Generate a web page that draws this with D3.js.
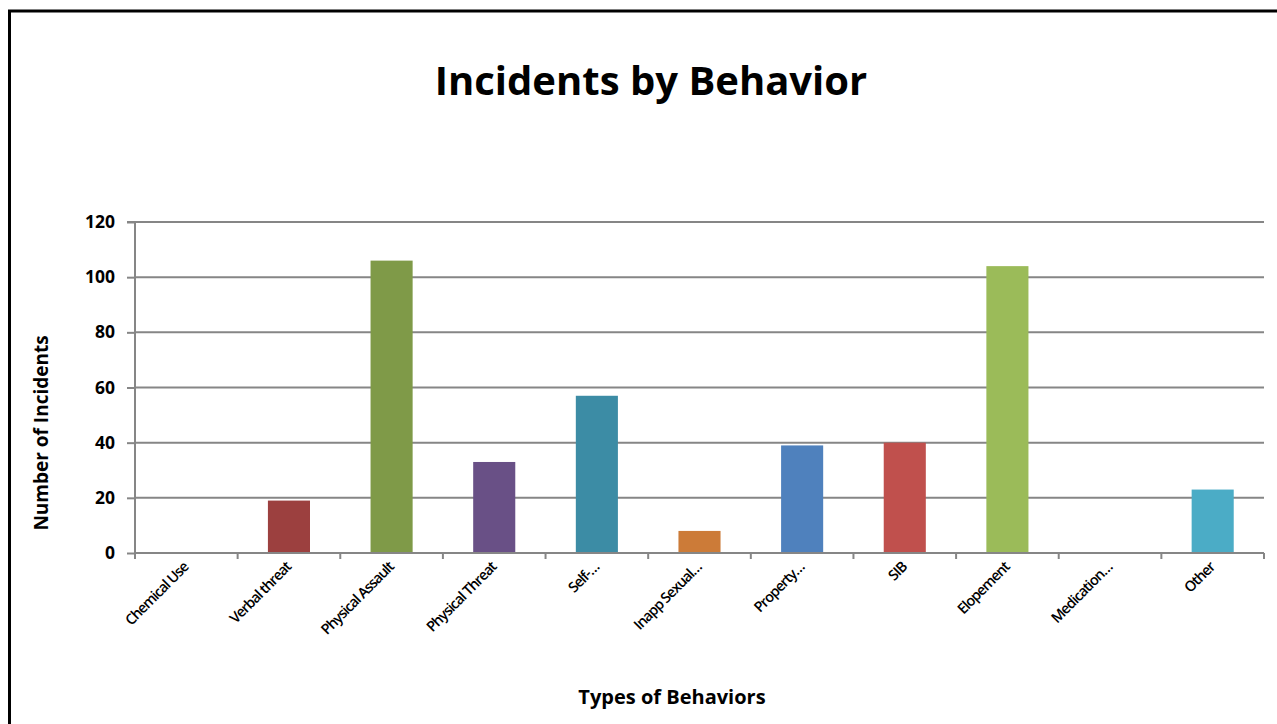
<!DOCTYPE html>
<html>
<head>
<meta charset="utf-8">
<script src="https://cdn.jsdelivr.net/npm/d3@7"></script>
<style>
  html, body { margin: 0; padding: 0; background: #fff; }
  svg { display: block; }
  text { font-family: "Open Sans", "DejaVu Sans", sans-serif; fill: #000; }
</style>
</head>
<body>
<svg id="chart" width="1277" height="724"></svg>
<script>
// Incident counts per behaviour type
const categories = ["Chemical Use", "Verbal threat", "Physical Assault", "Physical Threat",
  "Self-...", "Inapp Sexual...", "Property...", "SIB", "Elopement", "Medication...", "Other"];
const tickLabels = ["Chemical Use", "Verbal threat", "Physical Assault", "Physical Threat",
  "Self-…", "Inapp Sexual…", "Property…", "SIB", "Elopement", "Medication…", "Other"];
const incidents = [0, 19, 106, 33, 57, 8, 39, 40, 104, 0, 23];
const barColors = ["#3a6496", "#9c403f", "#7f9a48", "#695086", "#3c8ca5", "#cc7b38",
  "#4f81bd", "#c0504d", "#9bbb59", "#8064a2", "#4bacc6"];
const yTicks = [0, 20, 40, 60, 80, 100, 120];

const svg = d3.select("#chart");
const W = 1277, H = 724;
const plot = { left: 135, right: 1264, top: 222, bottom: 553 };
const axisColor = "#868686";

// Outer chart frame
svg.append("rect")
  .attr("x", 9.5).attr("y", 11).attr("width", W + 20).attr("height", H + 20)
  .attr("fill", "none").attr("stroke", "#000").attr("stroke-width", 3);

const x = d3.scaleBand().domain(categories).range([plot.left, plot.right]).padding(0);
const y = d3.scaleLinear().domain([0, 120]).range([plot.bottom, plot.top]);

// Horizontal gridlines
svg.append("g").selectAll("line")
  .data(yTicks.filter(t => t > 0))
  .join("line")
  .attr("x1", plot.left).attr("x2", plot.right)
  .attr("y1", d => y(d)).attr("y2", d => y(d))
  .attr("stroke", axisColor).attr("stroke-width", 2);

// Bars
const barW = x.bandwidth() * 0.41;
svg.append("g").selectAll("rect")
  .data(categories)
  .join("rect")
  .attr("x", d => x(d) + (x.bandwidth() - barW) / 2)
  .attr("width", barW)
  .attr("y", (d, i) => y(incidents[i]))
  .attr("height", (d, i) => y(0) - y(incidents[i]))
  .attr("fill", (d, i) => barColors[i]);

// Y axis
const yAxis = d3.axisLeft(y).tickValues(yTicks).tickSize(8).tickPadding(12);
const gy = svg.append("g").attr("transform", `translate(${plot.left},0)`).call(yAxis);
gy.select(".domain").attr("stroke", axisColor).attr("stroke-width", 2).attr("d", `M-8,${plot.top}H0V${plot.bottom}`);
gy.selectAll(".tick line").attr("stroke", axisColor).attr("stroke-width", 2);
gy.selectAll(".tick text")
  .attr("font-family", "'Open Sans', sans-serif")
  .attr("font-size", 17.5).attr("font-weight", "bold").attr("fill", "#000");

// X axis: ticks on category boundaries
const gx = svg.append("g").attr("transform", `translate(0,${plot.bottom})`);
gx.append("line")
  .attr("x1", plot.left).attr("x2", plot.right)
  .attr("stroke", axisColor).attr("stroke-width", 2);
const bounds = categories.map(c => x(c)).concat([plot.right]);
gx.selectAll("line.tk").data(bounds).join("line").attr("class", "tk")
  .attr("x1", d => d).attr("x2", d => d).attr("y1", 0).attr("y2", 6)
  .attr("stroke", axisColor).attr("stroke-width", 2);

// Rotated category labels
svg.append("g").selectAll("text")
  .data(categories)
  .join("text")
  .attr("transform", d => `translate(${x(d) + x.bandwidth() / 2 + 3},${plot.bottom + 15}) rotate(-45)`)
  .attr("text-anchor", "end")
  .attr("font-size", 14.5)
  .attr("font-weight", 600)
  .attr("letter-spacing", -1)
  .text((d, i) => tickLabels[i]);

// Title and axis titles
svg.append("text")
  .attr("x", 651).attr("y", 95)
  .attr("text-anchor", "middle")
  .attr("font-size", 40).attr("font-weight", "bold")
  .text("Incidents by Behavior");

svg.append("text")
  .attr("transform", "translate(48,433) rotate(-90)")
  .attr("text-anchor", "middle")
  .attr("font-size", 19).attr("font-weight", "bold")
  .text("Number of Incidents");

svg.append("text")
  .attr("x", 672).attr("y", 704)
  .attr("text-anchor", "middle")
  .attr("font-size", 20).attr("font-weight", "bold")
  .text("Types of Behaviors");
</script>
</body>
</html>
